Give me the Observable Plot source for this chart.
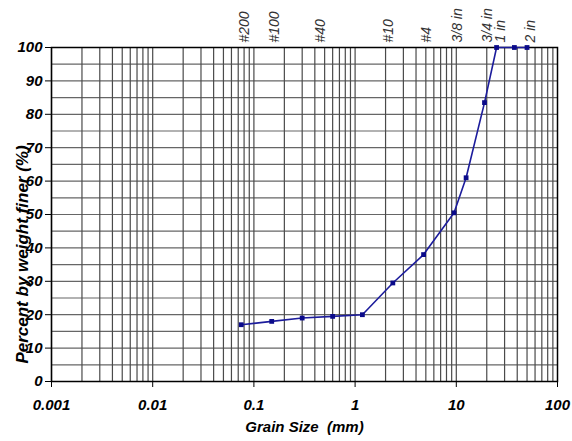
<!DOCTYPE html>
<html><head><meta charset="utf-8">
<script src="https://cdn.jsdelivr.net/npm/d3@7"></script>
<script src="https://cdn.jsdelivr.net/npm/@observablehq/plot@0.6"></script>
<style>body{margin:0;background:#fff;} svg{display:block;}</style>
</head><body><div id="chart"></div>
<script>
const sieveSize = [0.075, 0.15, 0.3, 0.6, 1.18, 2.36, 4.75, 9.5, 12.5, 19, 25, 37.5, 50];
const percentFiner = [17, 18, 19, 19.5, 20, 29.5, 38, 50.5, 61, 83.5, 100, 100, 100];
const sieveLabels = ["#200", "#100", "#40", "#10", "#4", "3/8 in", "3/4 in", "1 in", "2 in"];
const sieveLabelPos = [0.075, 0.15, 0.425, 2.0, 4.75, 9.5, 19, 25.4, 50.8];
const xTicks = [0.001, 0.01, 0.1, 1, 10, 100];
const yTicks = [0, 10, 20, 30, 40, 50, 60, 70, 80, 90, 100];

// grid positions (axis structure)
const xGrid = [];
for (let e = -3; e < 2; e++) for (let m = 1; m <= 9; m++) xGrid.push(m * Math.pow(10, e));
const yGrid = d3.range(0, 101, 5);

const pts = sieveSize.map((s, i) => ({size: s, pct: percentFiner[i]}));
const labs = sieveLabels.map((t, i) => ({t, x: sieveLabelPos[i]}));

const font = "Liberation Sans, Arial, sans-serif";

const chart = Plot.plot({
  width: 572,
  height: 441,
  marginLeft: 51,
  marginRight: 15,
  marginTop: 47,
  marginBottom: 60,
  style: {fontFamily: font, background: "#fff"},
  x: {type: "log", domain: [0.001, 100], label: null},
  y: {domain: [0, 100], label: null},
  marks: [
    Plot.ruleY(yGrid, {stroke: "#666", strokeWidth: 1.2}),
    Plot.ruleX(xGrid, {stroke: "#4a4a4a", strokeWidth: 1.2}),
    Plot.frame({stroke: "#000", strokeWidth: 1.5}),
    Plot.axisX({ticks: xTicks, tickFormat: d => String(d), tickSize: 6, tickPadding: 12,
      fontSize: 15, fontWeight: "bold", fontStyle: "italic", fill: "#000", stroke: "#000"}),
    Plot.axisY({ticks: yTicks, tickSize: 6, tickPadding: 3,
      fontSize: 15, fontWeight: "bold", fontStyle: "italic", fill: "#000", stroke: "#000"}),
    Plot.line(pts, {x: "size", y: "pct", stroke: "#1c1c9c", strokeWidth: 1.6}),
    Plot.dot(pts, {x: "size", y: "pct", symbol: "square", r: 2.7, fill: "#0a0a8a", stroke: "none"}),
    Plot.text(labs, {x: "x", y: () => 100, text: "t", rotate: -90, textAnchor: "start",
      dx: 3, dy: -5, fontSize: 14, fontStyle: "italic", fill: "#333"}),
    Plot.text(["Grain Size  (mm)"], {frameAnchor: "bottom", dy: 50, fontSize: 15,
      fontWeight: "bold", fontStyle: "italic", fill: "#000"}),
    Plot.text(["Percent by weight finer (%)"], {frameAnchor: "left", textAnchor: "middle", dx: -29, dy: 40, rotate: -90,
      fontSize: 17, fontWeight: "bold", fontStyle: "italic", fill: "#000"})
  ]
});
document.getElementById("chart").appendChild(chart);
</script>
</body></html>
